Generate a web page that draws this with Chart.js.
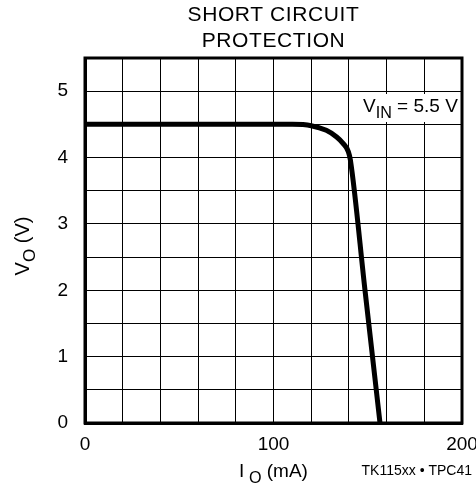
<!DOCTYPE html>
<html>
<head>
<meta charset="utf-8">
<script src="https://cdn.jsdelivr.net/npm/chart.js@4"></script>
<style>
  html, body { margin: 0; padding: 0; background: #fff; }
  #wrap { width: 476px; height: 495px; }
</style>
</head>
<body>
<div id="wrap"><canvas id="chart" width="476" height="495"></canvas></div>
<script>
// data (mA, V)
const currentMA = [0, 60, 100, 110, 120, 128, 133.5, 137, 139.7, 140.8, 148.5, 156.5];
const voltageV  = [4.5, 4.5, 4.5, 4.5, 4.48, 4.41, 4.31, 4.21, 4.09, 3.96, 2.01, 0];
const xTicks = [0, 100, 200];
const yTicks = [0, 1, 2, 3, 4, 5];
const titleLines = ["SHORT CIRCUIT", "PROTECTION"];

const FONT = "'Liberation Sans', Arial, sans-serif";

// draw text with subscript part: parts = [[text, isSub], ...]
function drawParts(ctx, parts, x, y, size, align) {
  let total = 0;
  parts.forEach(p => {
    ctx.font = (p[1] ? size * 0.85 : size) + "px " + FONT;
    total += ctx.measureText(p[0]).width;
  });
  let cx = align === "center" ? x - total / 2 : x;
  parts.forEach(p => {
    ctx.font = (p[1] ? size * 0.85 : size) + "px " + FONT;
    ctx.fillText(p[0], cx, p[1] ? y + size * 0.32 : y);
    cx += ctx.measureText(p[0]).width;
  });
  return total;
}

const labels = {
  id: "labels",
  afterDraw(chart) {
    const ctx = chart.ctx;
    const area = chart.chartArea;
    ctx.save();
    ctx.fillStyle = "#000";
    ctx.textBaseline = "alphabetic";
    ctx.textAlign = "left";

    // title
    ctx.font = "21px " + FONT;
    ctx.letterSpacing = "0.6px";
    ctx.textAlign = "center";
    const cx = (area.left + area.right) / 2;
    ctx.fillText(titleLines[0], cx, 21);
    ctx.fillText(titleLines[1], cx, 47);
    ctx.letterSpacing = "0px";
    ctx.textAlign = "left";

    // V_IN label with white box
    ctx.fillStyle = "#fff";
    ctx.fillRect(358, 94, 102, 28);
    ctx.fillStyle = "#000";
    drawParts(ctx, [["V", false], ["IN", true], [" = 5.5 V", false]], 363, 112, 19, "left");

    // x axis title
    drawParts(ctx, [["I", false], [" O", true], [" (mA)", false]], cx, 477, 19, "center");

    // y axis title, rotated
    ctx.save();
    ctx.translate(29, 246);
    ctx.rotate(-Math.PI / 2);
    drawParts(ctx, [["V", false], ["O", true], [" (V)", false]], 0, 0, 20, "center");
    ctx.restore();

    // figure id
    ctx.font = "14px " + FONT;
    ctx.textAlign = "right";
    ctx.fillText("TK115xx \u2022 TPC41", 472, 475);
    ctx.restore();
  }
};

new Chart(document.getElementById("chart"), {
  type: "scatter",
  data: {
    datasets: [{
      data: currentMA.map((x, i) => ({ x: x, y: voltageV[i] })),
      showLine: true,
      borderColor: "#000",
      borderWidth: 5,
      pointRadius: 0,
      cubicInterpolationMode: "monotone",
      borderCapStyle: "butt",
      borderJoinStyle: "round"
    }]
  },
  options: {
    responsive: false,
    animation: false,
    events: [],
    layout: { padding: { left: 0, right: 14, top: 58, bottom: 0 } },
    plugins: { legend: { display: false }, tooltip: { enabled: false } },
    scales: {
      x: {
        type: "linear",
        min: 0,
        max: 200,
        afterFit: s => { s.height = 72; s.paddingLeft = 0; s.paddingRight = 0; },
        ticks: {
          stepSize: 20,
          autoSkip: false,
          maxRotation: 0,
          padding: 10,
          color: "#000",
          font: { size: 19, family: FONT },
          callback: v => xTicks.includes(v) ? v : ""
        },
        grid: { color: "#000", lineWidth: 1, drawTicks: false },
        border: { color: "#000", width: 3 }
      },
      y: {
        min: 0,
        max: 5.5,
        afterFit: s => { s.width = 85; s.paddingTop = 0; s.paddingBottom = 0; },
        ticks: {
          stepSize: 0.5,
          autoSkip: false,
          padding: 17,
          color: "#000",
          font: { size: 19, family: FONT },
          callback: v => yTicks.includes(v) ? v : ""
        },
        grid: { color: "#000", lineWidth: 1, drawTicks: false },
        border: { color: "#000", width: 3 }
      }
    }
  },
  plugins: [labels, {
    id: "frame",
    beforeDatasetsDraw(chart) {
      const a = chart.chartArea, ctx = chart.ctx;
      ctx.save();
      ctx.strokeStyle = "#000";
      ctx.lineWidth = 3;
      ctx.strokeRect(a.left, a.top, a.right - a.left, a.bottom - a.top);
      ctx.restore();
    }
  }]
});
</script>
</body>
</html>
